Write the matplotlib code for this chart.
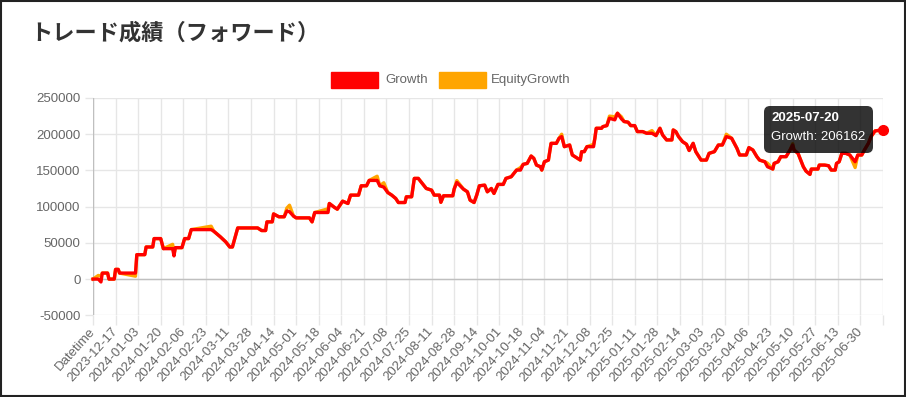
import numpy as np
import matplotlib
matplotlib.use("Agg")
import matplotlib.pyplot as plt
from matplotlib.patches import Rectangle, FancyBboxPatch
from matplotlib.transforms import IdentityTransform

plt.rcParams['font.family'] = ['Liberation Sans', 'DejaVu Sans']

# --- data ---
title = "トレード成績（フォワード）"
series_names = ["Growth", "EquityGrowth"]

tick_labels = ["Datetime", "2023-12-17", "2024-01-03", "2024-01-20", "2024-02-06",
               "2024-02-23", "2024-03-11", "2024-03-28", "2024-04-14", "2024-05-01",
               "2024-05-18", "2024-06-04", "2024-06-21", "2024-07-08", "2024-07-25",
               "2024-08-11", "2024-08-28", "2024-09-14", "2024-10-01", "2024-10-18",
               "2024-11-04", "2024-11-21", "2024-12-08", "2024-12-25", "2025-01-11",
               "2025-01-28", "2025-02-14", "2025-03-03", "2025-03-20", "2025-04-06",
               "2025-04-23", "2025-05-10", "2025-05-27", "2025-06-13", "2025-06-30", ""]

# category index (one per day) of each break point
day_idx = [0, 4, 6, 7, 11, 12, 16, 17, 19, 20,
           32, 33, 39, 40, 45, 46, 51, 53, 60, 61,
           62, 67, 69, 72, 74, 89, 91, 96, 100, 103,
           105, 109, 124, 127, 130, 131, 135, 136, 140, 144,
           146, 148, 151, 153, 163, 165, 167, 177, 178, 182,
           184, 188, 192, 194, 200, 202, 206, 208, 214, 216,
           219, 222, 225, 228, 230, 235, 236, 240, 242, 245,
           248, 251, 255, 257, 261, 262, 264, 271, 272, 274,
           279, 282, 284, 287, 289, 291, 295, 297, 300, 302,
           305, 309, 311, 315, 319, 322, 324, 327, 330, 332,
           334, 337, 338, 340, 343, 345, 349, 351, 353, 355,
           359, 361, 365, 367, 368, 370, 372, 377, 378, 379,
           383, 384, 387, 389, 393, 395, 398, 400, 403, 405,
           408, 410, 414, 417, 421, 424, 427, 429, 432, 436,
           437, 439, 441, 444, 447, 449, 452, 454, 458, 462,
           464, 468, 471, 474, 477, 481, 485, 487, 492, 494,
           497, 500, 502, 506, 508, 512, 513, 516, 518, 522,
           525, 527, 528, 531, 535, 537, 540, 541, 546, 547,
           551, 554, 556, 559, 560, 562, 564, 567, 570, 574,
           576, 579, 581, 584, 586, 589, 595]

growth = [0, 0, -4000, 8300, 8300, 0, 0, 13400, 13400, 8300,
          8300, 33700, 33700, 44300, 44300, 55900, 55900, 42000, 42000, 32000,
          43400, 43400, 55900, 55900, 68300, 68300, 66000, 58200, 51300, 44300,
          44300, 70600, 70600, 67000, 67000, 79000, 79000, 90000, 86000, 86000,
          94000, 93000, 87000, 84500, 84500, 79000, 91900, 91900, 104400, 98800,
          96500, 107600, 104400, 115900, 115900, 128800, 128800, 136200, 136200, 128800,
          127000, 119500, 115900, 111300, 105700, 105700, 113600, 113600, 139000, 139000,
          132000, 125100, 122800, 115900, 115900, 106000, 115000, 115000, 124200, 133400,
          124200, 120500, 109000, 105700, 115900, 128800, 129700, 120500, 125100, 118200,
          130700, 130700, 139000, 141300, 150500, 150500, 158400, 159700, 169900, 166700,
          157400, 155100, 150500, 162000, 164300, 187400, 187400, 194400, 196700, 182800,
          185100, 171300, 166700, 164300, 175900, 175900, 182800, 182800, 194400, 208200,
          208200, 210500, 211900, 222100, 219800, 229000, 221200, 217500, 216600, 211900,
          211900, 203600, 203600, 201300, 201300, 198100, 208200, 199000, 192100, 192100,
          205900, 203600, 196700, 189800, 186100, 177500, 187400, 175900, 164300, 164300,
          173600, 175900, 185100, 185100, 196700, 194400, 180500, 171300, 171300, 181500,
          178200, 169000, 164300, 162000, 155100, 151900, 159700, 162000, 169000, 169000,
          178200, 185100, 178200, 173600, 155100, 149100, 144500, 151900, 151900, 157400,
          157400, 156500, 150500, 150500, 159700, 162000, 173600, 173600, 171300, 162000,
          171300, 171300, 178200, 187400, 196700, 204500, 206162]

equity = [0, 5000, 4000, 8300, 8300, 0, 0, 13400, 13400, 8300,
          4000, 33700, 33700, 44300, 44300, 55900, 55900, 42000, 48000, 34000,
          43400, 43400, 55900, 55900, 68300, 73000, 66000, 58200, 51300, 44300,
          44300, 70600, 70600, 67000, 67000, 79000, 79000, 90000, 86000, 86000,
          98000, 102000, 87000, 84500, 84500, 79000, 91900, 97000, 104400, 98800,
          96500, 107600, 104400, 115900, 115900, 128800, 128800, 136200, 142000, 128800,
          133000, 119500, 115900, 111300, 105700, 105700, 113600, 113600, 139000, 139000,
          132000, 125100, 122800, 115900, 115900, 106000, 115000, 115000, 124200, 136000,
          124200, 120500, 109000, 105700, 115900, 128800, 129700, 120500, 125100, 118200,
          130700, 130700, 139000, 141300, 150500, 154000, 158400, 159700, 169900, 166700,
          157400, 155100, 150500, 162000, 164300, 187400, 187400, 194400, 200000, 182800,
          185100, 171300, 166700, 164300, 175900, 175900, 182800, 186000, 194400, 208200,
          208200, 210500, 211900, 225000, 224000, 229000, 224000, 217500, 216600, 211900,
          211900, 203600, 203600, 201300, 205000, 198100, 208200, 199000, 192100, 192100,
          205900, 203600, 196700, 189800, 186100, 177500, 187400, 175900, 164300, 164300,
          173600, 175900, 185100, 185100, 200000, 194400, 180500, 171300, 171300, 181500,
          178200, 169000, 164300, 162000, 160000, 151900, 159700, 162000, 169000, 169000,
          178200, 187000, 178200, 173600, 155100, 149100, 144500, 151900, 151900, 157400,
          157400, 156500, 150500, 150500, 159700, 162000, 173600, 173600, 171300, 154000,
          171300, 171300, 178200, 187400, 196700, 204500, 206162]

tip_date = "2025-07-20"
y_ticks = [-50000, 0, 50000, 100000, 150000, 200000, 250000]

# --- layout (pixels) ---
W, H = 906, 397
px = IdentityTransform()
grid_c = "#e6e6e6"
zero_c = "#bfbfbf"
label_c = "#666666"

fig = plt.figure(figsize=(W / 100, H / 100), dpi=100)
ax = fig.add_axes([93 / W, 1 - 315.3 / H, (883 - 93) / W, (315.3 - 98) / H])

ax.plot(day_idx, equity, color="#ffa500", lw=2.4, zorder=3, clip_on=False,
        solid_joinstyle="round")
ax.plot(day_idx, growth, color="#ff0000", lw=2.4, zorder=4, clip_on=False,
        solid_joinstyle="round")
ax.plot(day_idx[-1], growth[-1], "o", color="#ff0000", ms=7, zorder=5, clip_on=False)

ax.set_xlim(0, day_idx[-1])
ax.set_ylim(y_ticks[0], y_ticks[-1])
ax.set_xticks(np.arange(0, day_idx[-1] + 1, 17))
ax.set_xticklabels(tick_labels, rotation=48, ha="right", va="center",
                   rotation_mode="anchor")
ax.set_yticks(y_ticks)
ax.set_yticklabels([str(v) for v in y_ticks])
ax.tick_params(axis="y", length=5.8, width=1, color=grid_c, labelcolor=label_c,
               labelsize=9.5, pad=3)
ax.tick_params(axis="x", length=7.2, width=1, color=grid_c, labelcolor=label_c,
               labelsize=9.5, pad=3)
ax.grid(True, color=grid_c, lw=1, alpha=1)
ax.set_axisbelow(True)
for s in ax.spines.values():
    s.set_visible(False)
ax.axhline(0, color=zero_c, lw=1, zorder=1)
ax.axvline(0, color=zero_c, lw=1, zorder=1)

# title
fig.text(30, H - 33, title, transform=px, fontsize=16, fontweight="bold",
         color="#333333", va="center", family=["Noto Sans CJK JP", "DejaVu Sans"])

# legend
fig.add_artist(Rectangle((331, H - 88), 47, 16, color="#ff0000", transform=px))
fig.text(385, H - 80, series_names[0], transform=px, fontsize=9.5, color=label_c,
         va="center")
fig.add_artist(Rectangle((439, H - 88), 47, 16, color="#ffa500", transform=px))
fig.text(491, H - 80, series_names[1], transform=px, fontsize=9.5, color=label_c,
         va="center")

# tooltip for the last point
fig.add_artist(FancyBboxPatch((764, H - 153), 109, 47,
                              boxstyle="round,pad=0,rounding_size=6",
                              fc=(0, 0, 0, 0.8), ec="none", transform=px, zorder=10))
fig.text(771, H - 118, tip_date, transform=px, fontsize=9.5, fontweight="bold",
         color="white", va="center", zorder=11)
fig.text(771, H - 137, f"{series_names[0]}: {growth[-1]}", transform=px,
         fontsize=9.5, color="white", va="center", zorder=11)

# outer frame
fig.add_artist(Rectangle((1, 1), W - 2, H - 2, fill=False, ec="#222222", lw=1.5,
                         transform=px))

fig.savefig("out.png", dpi=100)
